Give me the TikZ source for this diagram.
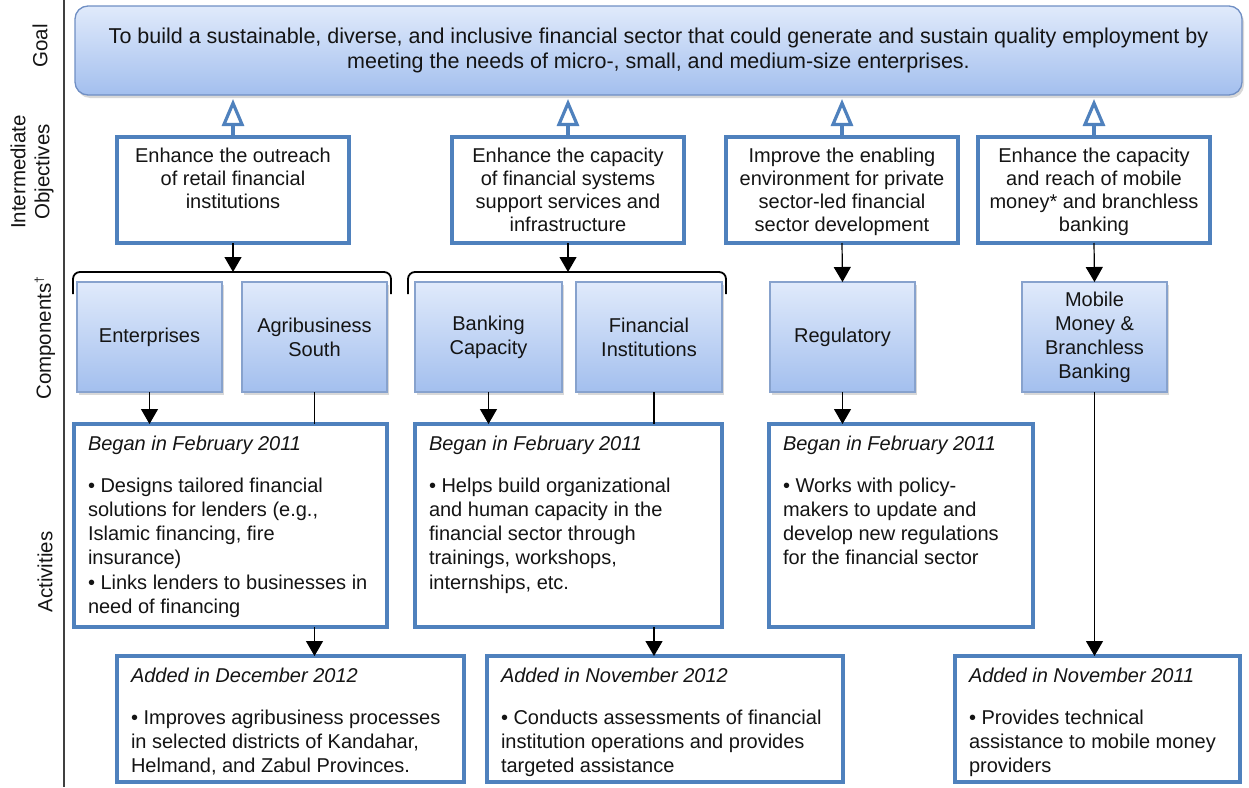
\documentclass[tikz,border=0pt]{standalone}
\usepackage{fontspec}
\setmainfont{Liberation Sans}
\usetikzlibrary{arrows.meta,shadows}
\definecolor{bord}{RGB}{79,129,189}
\definecolor{gtop}{RGB}{224,234,251}
\definecolor{gbot}{RGB}{163,191,238}
\definecolor{gline}{RGB}{112,143,196}
\definecolor{cline}{RGB}{135,162,205}
\definecolor{txt}{RGB}{20,20,20}
\newcommand\fgoal{\fontsize{21.5}{25}\selectfont}
\newcommand\fio{\fontsize{20}{23.2}\selectfont}
\newcommand\fcomp{\fontsize{20}{24}\selectfont}
\newcommand\fact{\fontsize{20}{24.2}\selectfont}
\newcommand\frow{\fontsize{20.5}{24}\selectfont}
\begin{document}
\begin{tikzpicture}[x=1pt,y=-1pt,
  every node/.style={inner sep=0pt, outer sep=0pt, text=txt},
  goalbox/.style={draw=gline, line width=1.3pt, rounded corners=13pt, top color=gtop, bottom color=gbot, anchor=north west, align=center, font=\fgoal, drop shadow={shadow xshift=2pt,shadow yshift=-3pt,opacity=0.3}},
  iobox/.style={draw=bord, line width=3.2pt, anchor=north west, fill=white},
  compbox/.style={draw=cline, line width=1.2pt, top color=gtop, bottom color=gbot, anchor=north west, align=center, font=\fcomp, drop shadow={shadow xshift=2pt,shadow yshift=-3pt,opacity=0.3}},
  actbox/.style={draw=bord, line width=3.2pt, anchor=north west, fill=white},
  iotext/.style={anchor=north, align=center, font=\fio},
  acttext/.style={anchor=north west, align=left, font=\fact},
  rowlabel/.style={rotate=90, align=center, font=\frow},
  blk/.style={line width=1.2pt, -{Triangle[width=17pt,length=15pt]}},
  plainline/.style={line width=1.2pt},
  openarr/.style={draw=bord, line width=3.2pt, -{Triangle[fill=white,width=22pt,length=27pt]}, shorten >=4pt},
  bracket/.style={line width=1.8pt, rounded corners=7pt},
  axis/.style={line width=1.6pt, draw=black!75},
]
\useasboundingbox (0,0) rectangle (1249,787);
\fill[white] (0,0) rectangle (1249,787);

% axis and row labels
\coordinate (axtop) at (64,0);
\coordinate (axbot) at (64,787);
\draw[axis] (axtop) -- (axbot);
\node[rowlabel] (lgoal) at (40,46) {Goal};
\node[rowlabel] (lio) at (32,172) {Intermediate\\Objectives};
\node[rowlabel] (lcomp) at (45,338) {Components\textsuperscript{\large †}};
\node[rowlabel] (lact) at (45,572) {Activities};

% goal
\node[goalbox, minimum width=1167pt, minimum height=89pt] (goal) at (75,6)
 {To build a sustainable, diverse, and inclusive financial sector that could generate and sustain quality employment by\\meeting the needs of micro-, small, and medium-size enterprises.};

% intermediate objectives
\node[iobox, minimum width=232pt, minimum height=106pt] (io1) at (117,137) {};
\node[iotext] (io1t) at (233,147.7) {Enhance the outreach\\of retail financial\\institutions};
\node[iobox, minimum width=232pt, minimum height=106pt] (io2) at (452,137) {};
\node[iotext] (io2t) at (568,147.7) {Enhance the capacity\\of financial systems\\support services and\\infrastructure};
\node[iobox, minimum width=232pt, minimum height=106pt] (io3) at (726,137) {};
\node[iotext] (io3t) at (842,147.7) {Improve the enabling\\environment for private\\sector-led financial\\sector development};
\node[iobox, minimum width=232pt, minimum height=106pt] (io4) at (978,137) {};
\node[iotext] (io4t) at (1094,147.7) {Enhance the capacity\\and reach of mobile\\money* and branchless\\banking};

% components
\node[compbox, minimum width=145pt, minimum height=110pt] (ent) at (77,282) {Enterprises};
\node[compbox, minimum width=145pt, minimum height=110pt] (agri) at (242,282) {Agribusiness\\South};
\node[compbox, minimum width=147pt, minimum height=110pt] (bank) at (415,282) {Banking\\Capacity};
\node[compbox, minimum width=146pt, minimum height=110pt] (fin) at (576,282) {Financial\\Institutions};
\node[compbox, minimum width=145pt, minimum height=110pt] (reg) at (770,282) {Regulatory};
\node[compbox, minimum width=145pt, minimum height=110pt] (mob) at (1022,282) {Mobile\\Money \&\\Branchless\\Banking};

% brackets
\coordinate (br1l) at (73,294);
\coordinate (br1r) at (391,294);
\coordinate (br1) at (233,272);
\draw[bracket] (br1l) -- (73,272) -- (391,272) -- (br1r);
\coordinate (br2l) at (408,294);
\coordinate (br2r) at (726,294);
\coordinate (br2) at (568,272);
\draw[bracket] (br2l) -- (408,272) -- (726,272) -- (br2r);

% activities
\node[actbox, minimum width=313pt, minimum height=203pt] (a1) at (74,424) {};
\node[acttext] (a1t) at (88,435.7) {\textit{Began in February 2011}\\[17.8pt]• Designs tailored financial\\solutions for lenders (e.g.,\\Islamic financing, fire\\insurance)\\• Links lenders to businesses in\\need of financing};
\node[actbox, minimum width=307pt, minimum height=203pt] (a2) at (415,424) {};
\node[acttext] (a2t) at (429,435.7) {\textit{Began in February 2011}\\[17.8pt]• Helps build organizational\\and human capacity in the\\financial sector through\\trainings, workshops,\\internships, etc.};
\node[actbox, minimum width=264pt, minimum height=203pt] (a3) at (769,424) {};
\node[acttext] (a3t) at (783,435.7) {\textit{Began in February 2011}\\[17.8pt]• Works with policy-\\makers to update and\\develop new regulations\\for the financial sector};

\node[actbox, minimum width=347pt, minimum height=126pt] (b1) at (117,656) {};
\node[acttext] (b1t) at (131,667.7) {\textit{Added in December 2012}\\[17.8pt]• Improves agribusiness processes\\in selected districts of Kandahar,\\Helmand, and Zabul Provinces.};
\node[actbox, minimum width=356pt, minimum height=126pt] (b2) at (487,656) {};
\node[acttext] (b2t) at (501,667.7) {\textit{Added in November 2012}\\[17.8pt]• Conducts assessments of financial\\institution operations and provides\\targeted assistance};
\node[actbox, minimum width=285pt, minimum height=126pt] (b3) at (955,656) {};
\node[acttext] (b3t) at (969,667.7) {\textit{Added in November 2011}\\[17.8pt]• Provides technical\\assistance to mobile money\\providers};

% connectors
\draw[openarr] (io1.north) -- (io1.north |- goal.south);
\draw[openarr] (io2.north) -- (io2.north |- goal.south);
\draw[openarr] (io3.north) -- (io3.north |- goal.south);
\draw[openarr] (io4.north) -- (io4.north |- goal.south);

\draw[blk] (io1.south) -- (br1);
\draw[blk] (io2.south) -- (br2);
\draw[blk] (io3.south) -- (reg.north);
\draw[blk] (io4.south) -- (mob.north);

\coordinate (finx) at ([xshift=5pt]fin.south);
\draw[blk] (ent.south) -- (ent.south |- a1.north);
\draw[plainline] (agri.south) -- (agri.south |- a1.north);
\draw[blk] (bank.south) -- (bank.south |- a2.north);
\draw[plainline] (finx) -- (finx |- a2.north);
\draw[blk] (reg.south) -- (reg.south |- a3.north);
\draw[blk] (mob.south) -- (mob.south |- b3.north);
\draw[blk] (agri.south |- a1.south) -- (agri.south |- b1.north);
\draw[blk] (finx |- a2.south) -- (finx |- b2.north);
\end{tikzpicture}
\end{document}
